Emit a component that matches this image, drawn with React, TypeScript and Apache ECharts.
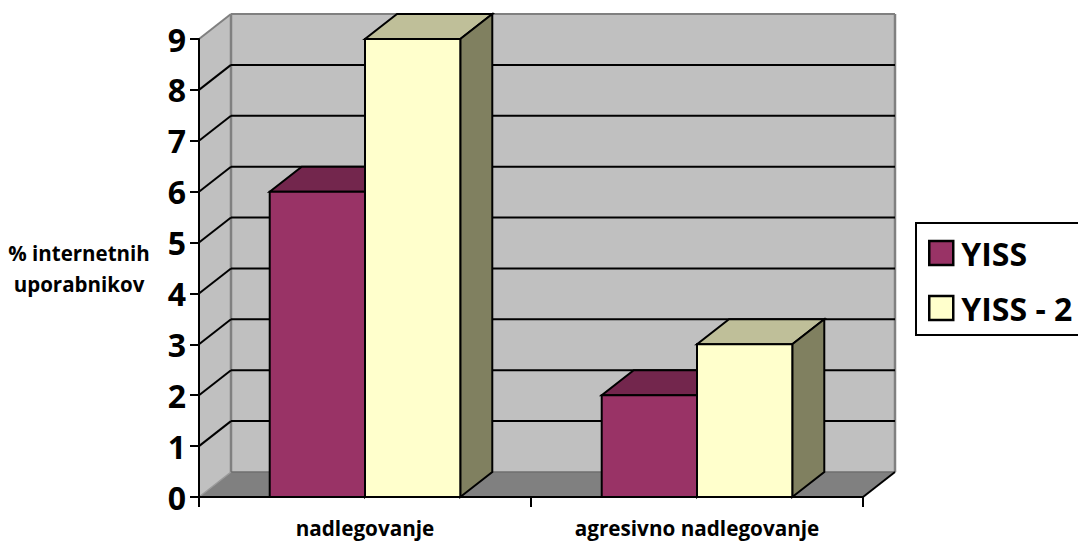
import React, { useEffect, useRef } from "react";
import * as echarts from "echarts";

const categories = ["nadlegovanje", "agresivno nadlegovanje"];
const seriesNames = ["YISS", "YISS - 2"];
const yiss = [6, 2];
const yiss2 = [9, 3];
const yTicks = [0, 1, 2, 3, 4, 5, 6, 7, 8, 9];
const yAxisTitle = "% internetnih\nuporabnikov";

const FONT = "'Open Sans', Carlito, Calibri, sans-serif";
const DX = 32;
const DY = -25;
const BAR_W = 0.287;
const INK = "#000000";
const WALL = "#c0c0c0";
const FLOOR = "#808080";
const EDGE = "#808080";

const poly = (points: number[][], fill: string, stroke: string, lineWidth = 2) => ({
  type: "polygon",
  shape: { points },
  style: { fill, stroke, lineWidth, lineJoin: "miter" },
});
const seg = (a: number[], b: number[], stroke: string, lineWidth = 2) => ({
  type: "line",
  shape: { x1: a[0], y1: a[1], x2: b[0], y2: b[1] },
  style: { stroke, lineWidth, fill: "none" },
});

const renderWalls = (_p: any, api: any) => {
  const half = api.size([1, 0])[0] / 2;
  const a = api.coord([0, 0]);
  const b = api.coord([categories.length - 1, 0]);
  const t = api.coord([0, yTicks[yTicks.length - 1]]);
  const x0 = a[0] - half;
  const x1 = b[0] + half;
  const y0 = a[1];
  const y1 = t[1];
  const kids: any[] = [
    poly([[x0, y0], [x0 + DX, y0 + DY], [x0 + DX, y1 + DY], [x0, y1]], WALL, "none", 0),
    poly([[x0 + DX, y0 + DY], [x1 + DX, y0 + DY], [x1 + DX, y1 + DY], [x0 + DX, y1 + DY]], WALL, "none", 0),
    poly([[x0, y0], [x1, y0], [x1 + DX, y0 + DY], [x0 + DX, y0 + DY]], FLOOR, "none", 0),
    seg([x0 + DX, y0 + DY], [x0 + DX, y1 + DY], EDGE, 2.5),
    seg([x1 + DX, y0 + DY], [x1 + DX, y1 + DY], EDGE, 2.5),
    seg([x0, y1], [x0 + DX, y1 + DY], EDGE, 2),
    seg([x0 + DX, y1 + DY], [x1 + DX, y1 + DY], EDGE, 2),
    seg([x0 + DX, y0 + DY], [x1 + DX, y0 + DY], "#6f6f6f", 1.5),
    seg([x0, y0], [x0 + DX, y0 + DY], "#9a9a9a", 1.5),
    seg([x1, y0], [x1 + DX, y0 + DY], INK, 2),
  ];
  yTicks.slice(1, -1).forEach((v) => {
    const y = api.coord([0, v])[1];
    kids.push(seg([x0, y], [x0 + DX, y + DY], INK, 2));
    kids.push(seg([x0 + DX, y + DY], [x1 + DX, y + DY], INK, 2));
  });
  return { type: "group", children: kids };
};

const renderBar = (slot: number, front: string, top: string, side: string) => (_p: any, api: any) => {
  const catW = api.size([1, 0])[0];
  const w = catW * BAR_W;
  const c = api.coord([api.value(0), api.value(1)]);
  const base = api.coord([api.value(0), 0])[1];
  const xl = c[0] + (slot - 1) * w;
  const xr = xl + w;
  const yt = c[1];
  return {
    type: "group",
    children: [
      poly([[xl, yt], [xr, yt], [xr + DX, yt + DY], [xl + DX, yt + DY]], top, INK),
      poly([[xr, yt], [xr + DX, yt + DY], [xr + DX, base + DY], [xr, base]], side, INK),
      poly([[xl, yt], [xr, yt], [xr, base], [xl, base]], front, INK),
    ],
  };
};

export default function App() {
  const ref = useRef<HTMLDivElement>(null);
  useEffect(() => {
    document.body.style.margin = "0";
    document.body.style.overflow = "hidden";
    const chart = echarts.init(ref.current!, undefined, { renderer: "svg" });
    chart.setOption({
      animation: false,
      backgroundColor: "#ffffff",
      textStyle: { fontFamily: FONT },
      grid: { left: 199, right: 215, top: 39, bottom: 45 },
      legend: {
        left: 916,
        top: 223,
        orient: "vertical",
        selectedMode: false,
        padding: [14, 30, 11, 12],
        itemWidth: 24,
        itemHeight: 24,
        itemGap: 23,
        borderColor: INK,
        borderWidth: 2,
        data: [
          { name: seriesNames[0], icon: "rect", itemStyle: { color: "#993366", borderColor: INK, borderWidth: 2.5 } },
          { name: seriesNames[1], icon: "rect", itemStyle: { color: "#ffffcc", borderColor: INK, borderWidth: 2.5 } },
        ],
        textStyle: { fontFamily: FONT, fontWeight: "bold", fontSize: 32, color: INK, padding: [0, 0, 0, 3] },
      },
      xAxis: {
        type: "category",
        data: categories,
        z: 3,
        axisLine: { show: true, lineStyle: { color: INK, width: 2 } },
        axisTick: { show: true, alignWithLabel: false, length: 10, lineStyle: { color: INK, width: 2 } },
        axisLabel: { fontFamily: FONT, fontWeight: "bold", fontSize: 20.7, color: INK, margin: 20 },
      },
      yAxis: {
        type: "value",
        min: 0,
        max: 9,
        interval: 1,
        z: 3,
        name: yAxisTitle,
        nameLocation: "middle",
        nameRotate: 0,
        nameGap: 120,
        nameTextStyle: { fontFamily: FONT, fontWeight: "bold", fontSize: 20.5, color: INK, lineHeight: 31, align: "center", padding: [2, 0, 0, 0] },
        splitLine: { show: false },
        axisLine: { show: true, lineStyle: { color: INK, width: 2 } },
        axisTick: { show: true, length: 9, lineStyle: { color: INK, width: 2 } },
        axisLabel: { fontFamily: FONT, fontWeight: "bold", fontSize: 32, color: INK, margin: 13 },
      },
      series: [
        {
          type: "custom",
          name: "walls",
          z: 1,
          silent: true,
          data: [[0, 0]],
          encode: { x: 0, y: 1 },
          renderItem: renderWalls,
        },
        {
          type: "custom",
          name: seriesNames[0],
          z: 4,
          data: yiss.map((v, i) => [i, v]),
          encode: { x: 0, y: 1 },
          itemStyle: { color: "#993366" },
          renderItem: renderBar(0, "#993366", "#73264d", "#73264d"),
        },
        {
          type: "custom",
          name: seriesNames[1],
          z: 5,
          data: yiss2.map((v, i) => [i, v]),
          encode: { x: 0, y: 1 },
          itemStyle: { color: "#ffffcc" },
          renderItem: renderBar(1, "#ffffcc", "#bfbf99", "#808060"),
        },
      ],
    });
    return () => chart.dispose();
  }, []);
  return <div ref={ref} style={{ width: 1078, height: 542 }} />;
}
